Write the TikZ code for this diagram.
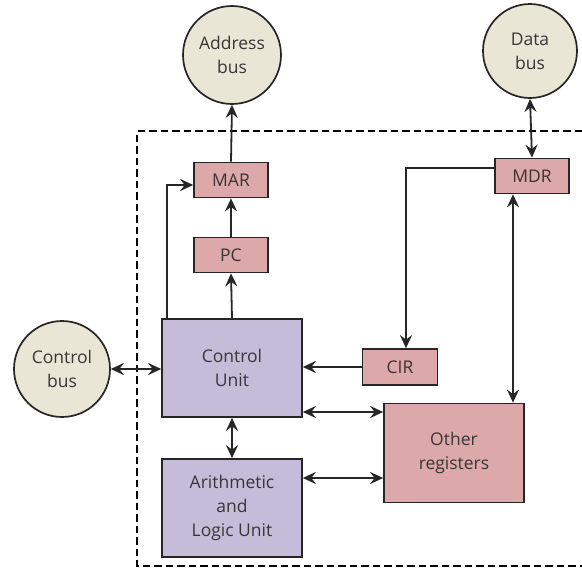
\documentclass[tikz,border=0pt]{standalone}
\usepackage{fontspec}
\setmainfont{Open Sans}
\usetikzlibrary{arrows.meta}
\definecolor{busfill}{HTML}{E9E6D6}
\definecolor{regfill}{HTML}{DDA8AA}
\definecolor{unitfill}{HTML}{C5BCDA}
\definecolor{txt}{HTML}{3A3535}
\begin{document}
\begin{tikzpicture}[x=1pt,y=-1pt,
  lbl/.style={text=txt,font=\fontsize{17.5}{24}\selectfont,align=center,inner sep=0pt},
  bus/.style={lbl,circle,draw=black!85,line width=1.7pt,fill=busfill},
  reg/.style={lbl,rectangle,draw=black!85,line width=1.7pt,fill=regfill},
  unit/.style={lbl,rectangle,draw=black!85,line width=1.7pt,fill=unitfill},
  conn/.style={line width=1.8pt,draw=black!85,-{Stealth[length=13pt,width=12pt,inset=4.5pt]}},
  dconn/.style={line width=1.8pt,draw=black!85,{Stealth[length=13pt,width=12pt,inset=4.5pt]}-{Stealth[length=13pt,width=12pt,inset=4.5pt]}}
]
\useasboundingbox (0,0) rectangle (582,568);
% dashed boundary
\draw[line width=2pt,dash pattern=on 7.5pt off 4pt] (582,131) -- (137,131) -- (137,566) -- (582,566);
% buses
\node[bus,minimum size=98pt] (abus) at (232,55) {Address\\bus};
\node[bus,minimum size=94pt] (dbus) at (530,51) {Data\\bus};
\node[bus,minimum size=96pt] (cbus) at (62,369) {Control\\bus};
% registers
\node[reg,minimum width=74pt,minimum height=35pt] (mar) at (231,180) {MAR};
\node[reg,minimum width=74pt,minimum height=35pt] (pc) at (231,255) {PC};
\node[reg,minimum width=74pt,minimum height=35pt] (mdr) at (532,176) {MDR};
\node[reg,minimum width=75pt,minimum height=36pt] (cir) at (400,367) {CIR};
\node[reg,minimum width=140pt,minimum height=99pt] (other) at (454,453) {Other\\registers};
% units
\node[unit,minimum width=140pt,minimum height=98pt] (cu) at (232,368) {Control\\Unit};
\node[unit,minimum width=140pt,minimum height=98pt] (alu) at (232,508) {Arithmetic\\and\\Logic Unit};
% connectors
\draw[conn] (mar.north) -- (abus.south);
\draw[conn] (pc.north) -- (mar.south);
\draw[conn] (cu.north) -- (pc.south);
\coordinate (cuTL) at ([xshift=6pt]cu.north west);
\coordinate (bendA) at (cuTL |- 0,185);
\draw[conn] (cuTL) -- (bendA) -- (bendA -| mar.west);
\draw[dconn] (dbus.south) -- (mdr.north);
\coordinate (mdrL) at ([yshift=8pt]mdr.west);
\coordinate (bendB) at ([xshift=6pt]cir.north |- mdrL);
\draw[conn] (mdrL) -- (bendB) -- (bendB |- cir.north);
\coordinate (mdrB) at ([xshift=-19pt]mdr.south);
\draw[dconn] (mdrB) -- (mdrB |- other.north);
\draw[dconn] (cbus.east) -- (cbus.east -| cu.west);
\draw[conn] (cir.west) -- (cir.west -| cu.east);
\coordinate (cuR) at (cu.east |- 0,412);
\draw[dconn] (cuR) -- (cuR -| other.west);
\coordinate (aluR) at (alu.east |- 0,478);
\draw[dconn] (aluR) -- (aluR -| other.west);
\draw[dconn] (cu.south) -- (alu.north);
\end{tikzpicture}
\end{document}
